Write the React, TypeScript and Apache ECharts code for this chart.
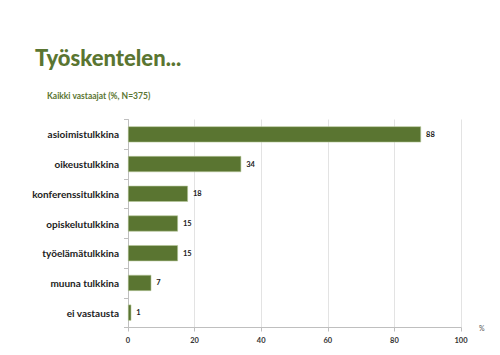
import React, { useEffect, useRef } from "react";
import * as echarts from "echarts";

const categories = [
  "asioimistulkkina",
  "oikeustulkkina",
  "konferenssitulkkina",
  "opiskelutulkkina",
  "työelämätulkkina",
  "muuna tulkkina",
  "ei vastausta",
];
const values = [88, 34, 18, 15, 15, 7, 1];
const xTicks = [0, 20, 40, 60, 80, 100];

const GREEN = "#5a7531";
const FONT = "Lato, 'Open Sans', sans-serif";

export default function App() {
  const ref = useRef<HTMLDivElement>(null);
  useEffect(() => {
    if (!ref.current) return;
    const chart = echarts.init(ref.current, undefined, { renderer: "svg" });
    chart.setOption({
      animation: false,
      backgroundColor: "#ffffff",
      title: [
        {
          text: "Työskentelen...",
          left: 30,
          top: 41,
          textStyle: { color: GREEN, fontSize: 22, fontWeight: 900, fontFamily: FONT },
        },
        {
          text: "Kaikki vastaajat (%, N=375)",
          left: 42,
          top: 86,
          textStyle: { color: GREEN, fontSize: 8.5, fontWeight: "bold", fontFamily: FONT },
        },
      ],
      grid: { left: 128, right: 39, top: 119.5, bottom: 27.5, containLabel: false },
      xAxis: {
        type: "value",
        min: 0,
        max: 100,
        interval: 20,
        name: "%",
        nameLocation: "end",
        nameGap: 18,
        nameTextStyle: { fontSize: 7, color: "#555", fontFamily: FONT, verticalAlign: "middle", padding: [0, 0, 0, 0] },
        axisLine: { show: true, lineStyle: { color: "#bfbfbf", width: 1 } },
        axisTick: { show: true, length: 4, lineStyle: { color: "#bfbfbf" } },
        splitLine: { show: true, lineStyle: { color: "#e3e3e3", width: 1 } },
        axisLabel: {
          fontSize: 7.5,
          fontWeight: "bold",
          color: "#333",
          fontFamily: FONT,
          margin: 9,
          customValues: xTicks,
        },
      },
      yAxis: {
        type: "category",
        data: categories,
        inverse: true,
        axisLine: { show: true, lineStyle: { color: "#bfbfbf", width: 1 } },
        axisTick: { show: true, length: 4, lineStyle: { color: "#bfbfbf" } },
        axisLabel: {
          fontSize: 10,
          fontWeight: "bold",
          color: "#222",
          fontFamily: FONT,
          margin: 9,
        },
      },
      series: [
        {
          type: "bar",
          data: values,
          barWidth: "54%",
          itemStyle: { color: GREEN, borderColor: "#b7c79a", borderWidth: 0.6 },
          label: {
            show: true,
            position: "right",
            distance: 5,
            fontSize: 7.5,
            fontWeight: "bold",
            color: "#222",
            fontFamily: FONT,
          },
        },
      ],
    });
    return () => chart.dispose();
  }, []);
  return <div ref={ref} style={{ width: 500, height: 355, position: "absolute", left: 0, top: 0 }} />;
}
